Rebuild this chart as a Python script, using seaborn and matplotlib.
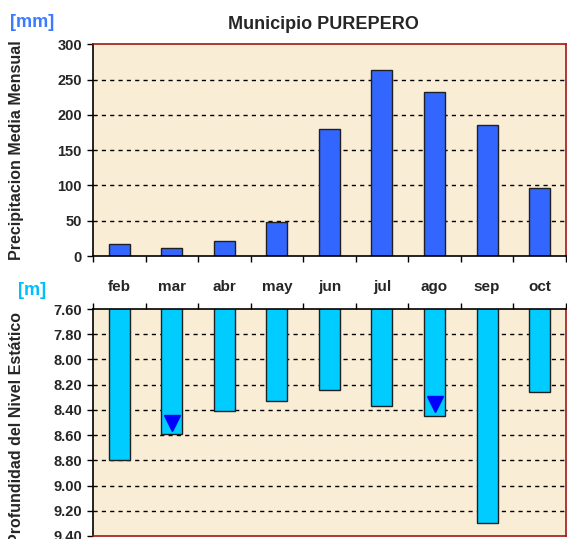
import pandas as pd
import seaborn as sns
import matplotlib.pyplot as plt
from matplotlib.ticker import FixedLocator

# monthly values
months = ["feb", "mar", "abr", "may", "jun", "jul", "ago", "sep", "oct"]
precip_mm = [17, 11, 21, 48, 180, 263, 233, 185, 97]
depth_m = [8.80, 8.59, 8.41, 8.33, 8.24, 8.37, 8.45, 9.30, 8.26]
marker_months = ["mar", "ago"]
marker_depth = [8.50, 8.35]

sns.set_style("white")
plt.rcParams["font.family"] = ["Liberation Sans", "DejaVu Sans"]
plt.rcParams["font.weight"] = "bold"

bg = "#FAEDD5"
frame_red = "#A01818"

df = pd.DataFrame({"mes": months, "precip": precip_mm, "depth": depth_m})

fig = plt.figure(figsize=(5.67, 5.39), dpi=100)
ax1 = fig.add_axes([0.164, 0.525, 0.834, 0.393])
ax2 = fig.add_axes([0.164, 0.0056, 0.834, 0.421])


def style_axis(ax, ticks, red_sides, black_sides):
    ax.set_facecolor(bg)
    for s in red_sides:
        ax.spines[s].set_color(frame_red)
        ax.spines[s].set_linewidth(1.2)
    for s in black_sides:
        ax.spines[s].set_color("black")
        ax.spines[s].set_linewidth(1.2)
    ax.set_yticks(ticks)
    ax.xaxis.set_minor_locator(FixedLocator([i - 0.5 for i in range(len(months) + 1)]))
    ax.tick_params(axis="x", which="major", length=0)
    ax.tick_params(axis="x", which="minor", length=4, width=1, color="black")
    ax.tick_params(axis="y", length=4, width=1, color="black", labelsize=10.5, pad=4, left=True)
    ax.set_axisbelow(True)
    ax.set_xlim(-0.5, len(months) - 0.5)
    ax.set_xlabel("")


# precipitation panel
sns.barplot(data=df, x="mes", y="precip", order=months, color="#3366FF", saturation=1,
            width=0.4, edgecolor="#202020", linewidth=1, ax=ax1)
ax1.set_ylim(0, 300)
style_axis(ax1, [0, 50, 100, 150, 200, 250, 300], ["top", "right"], ["left", "bottom"])
ax1.tick_params(axis="x", which="both", bottom=True, labelbottom=False)
for v in [50, 100, 150, 200, 250]:
    ax1.axhline(v, color="black", linestyle=(0, (3, 3)), linewidth=1, zorder=0.5)
ax1.set_ylabel("Precipitacion Media Mensual", fontsize=11.5, fontweight="bold")
ax1.yaxis.set_label_coords(-0.146, 0.5)
ax1.set_title("Municipio PUREPERO", fontsize=13, fontweight="bold", pad=11, x=0.487)

# static level depth panel
sns.barplot(data=df, x="mes", y="depth", order=months, color="#00CCFF", saturation=1,
            width=0.4, edgecolor="#202020", linewidth=1, ax=ax2)
ax2.set_ylim(9.40, 7.60)
depth_ticks = [7.6, 7.8, 8.0, 8.2, 8.4, 8.6, 8.8, 9.0, 9.2, 9.4]
style_axis(ax2, depth_ticks, ["bottom", "right"], ["left", "top"])
ax2.set_yticklabels([f"{t:.2f}" for t in depth_ticks])
ax2.tick_params(axis="x", which="both", top=True, bottom=False, labeltop=True, labelbottom=False)
ax2.tick_params(axis="x", which="major", labelsize=11, pad=11)
for v in depth_ticks[1:-1]:
    ax2.axhline(v, color="black", linestyle=(0, (3, 3)), linewidth=1, zorder=0.5)
mk = pd.DataFrame({"mes": marker_months, "depth": marker_depth})
mk["pos"] = [months.index(m) for m in marker_months]
ax2.plot(mk["pos"], mk["depth"], linestyle="none", marker="v", markersize=11,
         color="#0000FF", zorder=5)
ax2.set_ylabel("Profundidad del Nivel Estático", fontsize=11.5, fontweight="bold")
ax2.yaxis.set_label_coords(-0.146, 0.478)
ax2.set_xlabel("")

fig.text(0.057, 0.958, "[mm]", color="#3A7BFF", fontsize=13, fontweight="bold",
         ha="center", va="center")
fig.text(0.057, 0.461, "[m]", color="#00BFFF", fontsize=13, fontweight="bold",
         ha="center", va="center")

fig.savefig("out.png", dpi=100)
